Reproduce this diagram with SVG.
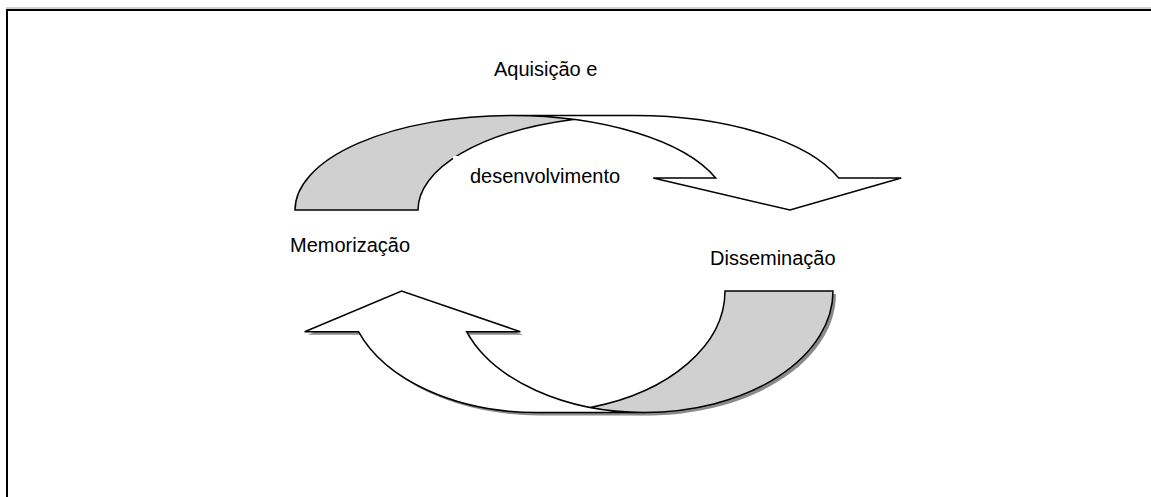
<svg xmlns="http://www.w3.org/2000/svg" width="1151" height="497" viewBox="0 0 1151 497">
<style>
.lbl{font-family:"Liberation Sans",Arial,sans-serif;font-size:20px;fill:#000}
.back{fill:#d0d0d0;stroke:none}
.front{fill:#fff;stroke:none}
.edge{fill:none;stroke:#000;stroke-width:1.5;stroke-linejoin:miter}
.shadow{fill:#8a8a8a;stroke:none}
</style>
<rect width="1151" height="497" fill="#fff"/>
<g id="frame">
<line x1="6" y1="8" x2="1151" y2="8" stroke="#a0a0a0" stroke-width="1"/>
<line x1="6" y1="10" x2="1151" y2="10" stroke="#000" stroke-width="2"/>
<line x1="7" y1="9" x2="7" y2="497" stroke="#000" stroke-width="2"/>
</g>
<g id="connectors">
<g id="arrow-top">
<path class="back" d="M573.25,119.4 A216.75,94.5 0 0 0 418,210 L295,210 A216.75,94.5 0 0 1 573.25,119.4 Z"/>
<path class="front" d="M790,210 L653.2,178 L715.7,178 A216.75,94.5 0 0 0 511.75,115.5 L634.75,115.5 A216.75,94.5 0 0 1 838.7,178 L901.2,178 Z"/>
<path class="edge" d="M573.25,119.4 A216.75,94.5 0 0 0 418,210 L295,210 A216.75,94.5 0 0 1 511.75,115.5 L634.75,115.5 A216.75,94.5 0 0 1 838.7,178 L901.2,178 L790,210 L653.2,178 L715.7,178 A216.75,94.5 0 0 0 511.75,115.5"/>
</g>
<g id="arrow-bottom">
<g transform="translate(3,3)">
<path class="shadow" d="M590.3,407.4 A188.7,121.5 0 0 0 725,291 L833,291 A188.7,121.5 0 0 1 590.3,407.4 Z"/>
<path class="shadow" d="M401.6,291 L520.35,331.7 L466.5,331.7 A188.7,121.5 0 0 0 644.3,412.5 L536.3,412.5 A188.7,121.5 0 0 1 358.5,331.7 L304.65,331.7 Z"/>
</g>
<path class="back" d="M590.3,407.4 A188.7,121.5 0 0 0 725,291 L833,291 A188.7,121.5 0 0 1 590.3,407.4 Z"/>
<path class="front" d="M401.6,291 L520.35,331.7 L466.5,331.7 A188.7,121.5 0 0 0 644.3,412.5 L536.3,412.5 A188.7,121.5 0 0 1 358.5,331.7 L304.65,331.7 Z"/>
<path class="edge" d="M590.3,407.4 A188.7,121.5 0 0 0 725,291 L833,291 A188.7,121.5 0 0 1 644.3,412.5 L536.3,412.5 A188.7,121.5 0 0 1 358.5,331.7 L304.65,331.7 L401.6,291 L520.35,331.7 L466.5,331.7 A188.7,121.5 0 0 0 644.3,412.5"/>
</g>
</g>
<g id="label-aquisicao">
<rect x="453" y="156" width="188" height="44" fill="#fff"/>
<text class="lbl" x="494" y="76">Aquisição e</text>
<text class="lbl" x="470" y="183">desenvolvimento</text>
</g>
<g id="label-memorizacao">
<text class="lbl" x="290" y="252">Memorização</text>
</g>
<g id="label-disseminacao">
<text class="lbl" x="710" y="265">Disseminação</text>
</g>
</svg>
